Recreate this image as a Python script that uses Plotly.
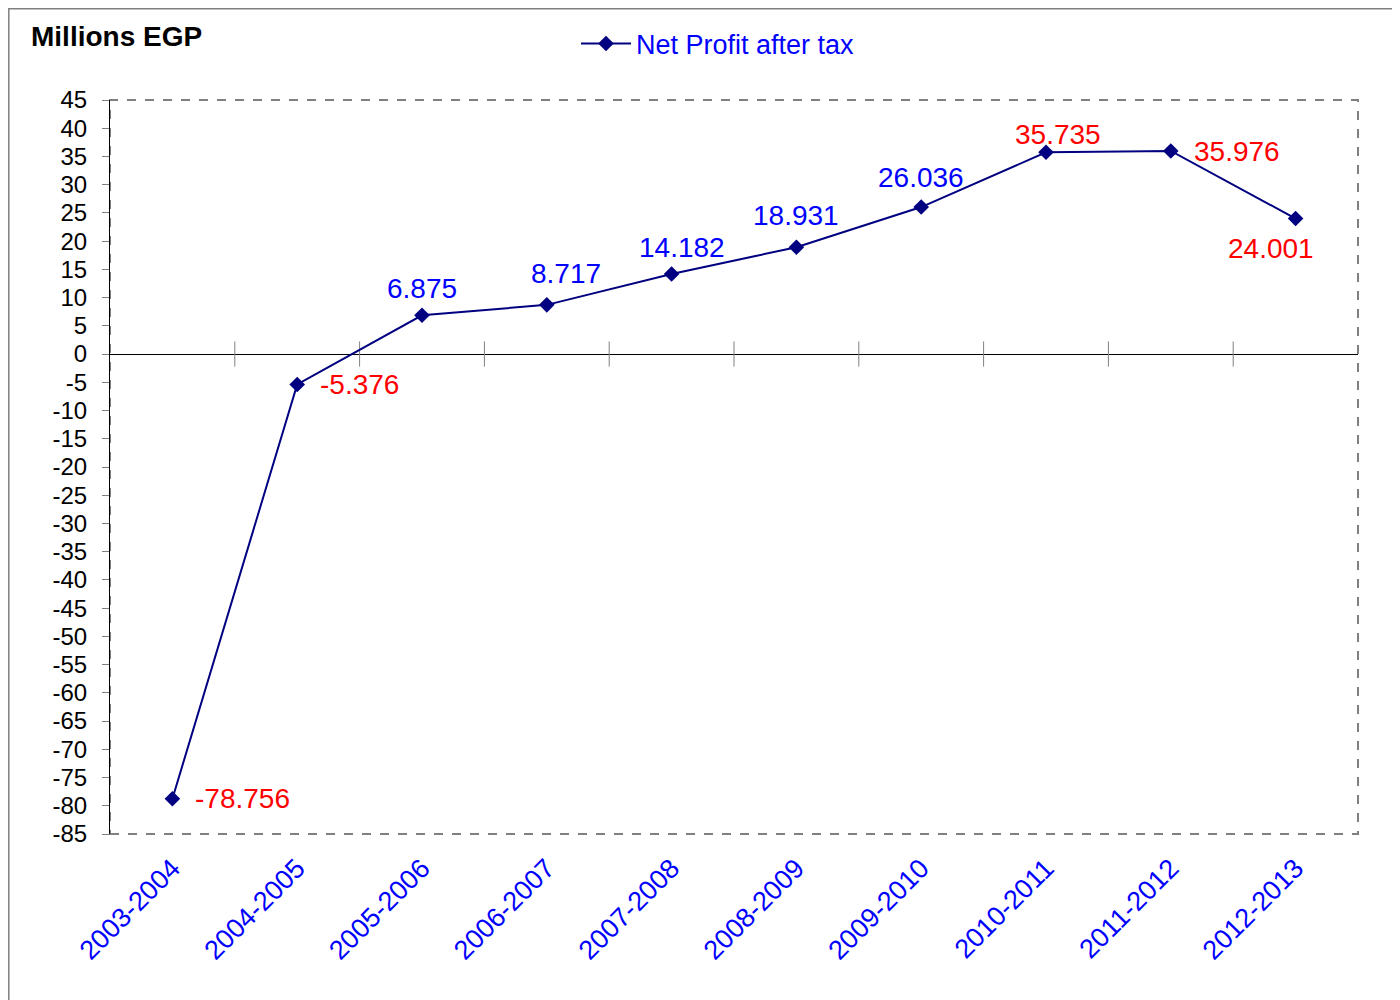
import plotly.graph_objects as go

categories = ["2003-2004", "2004-2005", "2005-2006", "2006-2007", "2007-2008",
              "2008-2009", "2009-2010", "2010-2011", "2011-2012", "2012-2013"]
net_profit = [-78.756, -5.376, 6.875, 8.717, 14.182, 18.931, 26.036, 35.735, 35.976, 24.001]
label_colors = ["#FF0000", "#FF0000", "#0000FF", "#0000FF", "#0000FF",
                "#0000FF", "#0000FF", "#FF0000", "#FF0000", "#FF0000"]
# label placement style per point: (xshift, yshift, xanchor)
label_place = [(21, 0, "left"), (21, 0, "left"), (0, 27, "center"), (19, 31, "center"),
               (10, 27, "center"), (0, 32, "center"), (0, 30, "center"),
               (12, 18, "center"), (21, -1, "left"), (-25, -30, "center")]
y_ticks = list(range(-85, 50, 5))
y_tick_text = [str(v) for v in y_ticks]

FONT = "Liberation Sans, Arial, sans-serif"
NAVY = "#000080"

x_idx = list(range(len(categories)))

fig = go.Figure()

# category boundary tick marks across the zero line
fig.add_trace(go.Scatter(
    x=[i + 0.5 for i in x_idx[:-1]], y=[0] * (len(categories) - 1),
    mode="markers", showlegend=False, hoverinfo="skip",
    marker=dict(symbol="line-ns", size=18, line=dict(color="#808080", width=1)),
))

fig.add_trace(go.Scatter(
    x=x_idx, y=net_profit, mode="lines+markers", name="Net Profit after tax",
    line=dict(color=NAVY, width=2),
    marker=dict(symbol="diamond", size=12, color=NAVY),
))

for i, v in enumerate(net_profit):
    xs, ys, xa = label_place[i]
    fig.add_annotation(
        x=i, y=v, text=f"{v:.3f}", showarrow=False,
        xshift=xs, yshift=ys, xanchor=xa, yanchor="middle",
        font=dict(family=FONT, size=28, color=label_colors[i]),
    )

# plot area dashed border
fig.add_shape(type="rect", xref="paper", yref="paper", x0=0, x1=1, y0=0, y1=1,
              line=dict(color="#808080", width=2, dash="dash"), layer="below")
# outer chart border (figure-pixel positions converted to paper units)
fig.add_shape(type="rect", xref="paper", yref="paper",
              x0=(0.8 - 102) / 1248, x1=(1420 - 102) / 1248,
              y0=(826 - 1020) / 734, y1=(826 - 0.8) / 734,
              line=dict(color="#808080", width=1.5), layer="below")

fig.add_annotation(
    xref="paper", yref="paper", x=(29 - 110) / 1248, y=(834 - 36) / 734,
    text="<b>Millions EGP</b>", showarrow=False, xanchor="left", yanchor="middle",
    font=dict(family=FONT, size=28, color="black"),
)

fig.update_layout(
    width=1392, height=992,
    margin=dict(l=102, r=42, t=92, b=166),
    paper_bgcolor="white", plot_bgcolor="white",
    font=dict(family=FONT),
    showlegend=True,
    legend=dict(x=(576 - 110) / 1248, y=(834 - 44) / 734, xanchor="left", yanchor="middle",
                orientation="h", font=dict(family=FONT, size=27, color="#0000FF"),
                bgcolor="rgba(0,0,0,0)", itemwidth=50),
    xaxis=dict(range=[-0.5, 9.5], tickmode="array", tickvals=x_idx, ticktext=categories,
               tickangle=-45, showgrid=False, zeroline=False, showline=False,
               ticks="", tickfont=dict(family=FONT, size=27, color="#0000FF"),
               ticklabelstandoff=12),
    yaxis=dict(range=[-85, 45], tickmode="array", tickvals=y_ticks, ticktext=y_tick_text,
               showgrid=False, zeroline=True, zerolinecolor="black", zerolinewidth=1,
               showline=True, linecolor="black", linewidth=1,
               ticks="outside", ticklen=7, tickcolor="#808080",
               tickfont=dict(family=FONT, size=24, color="black"),
               ticklabelstandoff=10),
)

fig.write_html("out.html")
